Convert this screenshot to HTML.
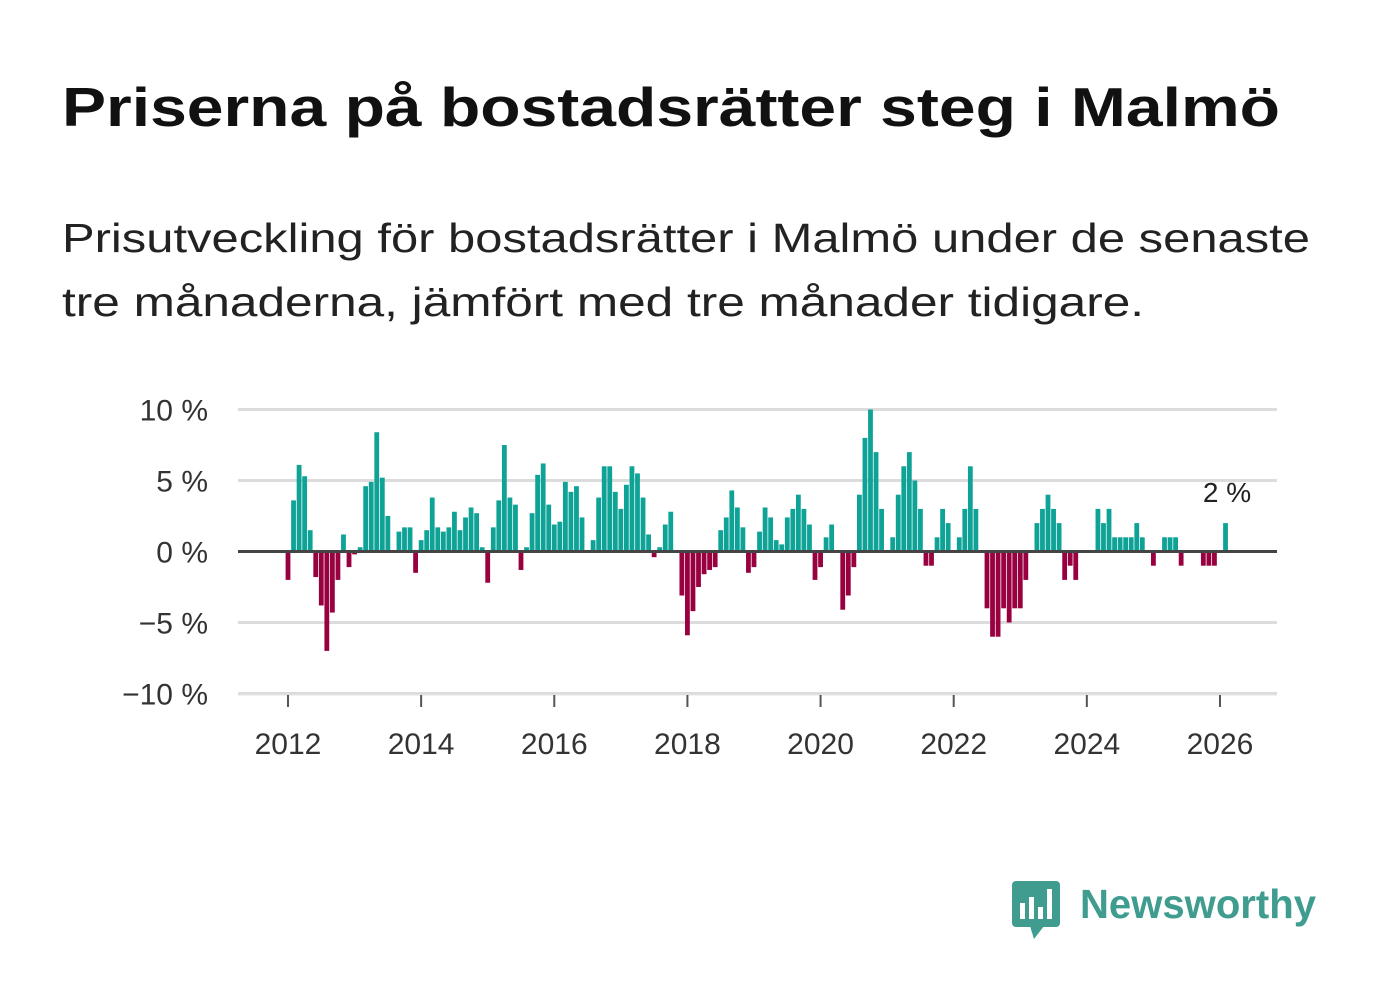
<!DOCTYPE html>
<html><head><meta charset="utf-8">
<style>
body{margin:0;background:#fff;width:1382px;height:999px;overflow:hidden;font-family:"Liberation Sans",sans-serif;}
svg text{font-family:"Liberation Sans",sans-serif;}
</style></head>
<body>
<svg id="chart" width="1382" height="999">
<text x="62" y="126" font-size="55" font-weight="bold" fill="#111" textLength="1218" lengthAdjust="spacingAndGlyphs">Priserna på bostadsrätter steg i Malmö</text>
<text x="62" y="252" font-size="41" fill="#222" textLength="1248" lengthAdjust="spacingAndGlyphs">Prisutveckling för bostadsrätter i Malmö under de senaste</text>
<text x="62" y="316" font-size="41" fill="#222" textLength="1082" lengthAdjust="spacingAndGlyphs">tre månaderna, jämfört med tre månader tidigare.</text>
<g id="grid"></g><g id="bars"></g><g id="axes"></g>
<text x="1227" y="502" font-size="28" fill="#222" text-anchor="middle">2 %</text>
<g>
<rect x="1012" y="881" width="48" height="46" rx="4" fill="#3f9c8f"/>
<polygon points="1030,926 1044,926 1034,939" fill="#3f9c8f"/>
<rect x="1020" y="903" width="5" height="16" fill="#fff"/><rect x="1029" y="897" width="5" height="22" fill="#fff"/>
<rect x="1038" y="907" width="5" height="12" fill="#fff"/><rect x="1047" y="889" width="5" height="30" fill="#fff"/>
<text x="1080" y="918" font-size="41" font-weight="bold" fill="#3f9c8f" textLength="236" lengthAdjust="spacingAndGlyphs">Newsworthy</text>
</g>
</svg>
<script>
const startYear = 2012;
const values = [-2.0,3.6,6.1,5.3,1.5,-1.8,-3.8,-7.0,-4.3,-2.0,1.2,-1.1,
-0.2,0.3,4.6,4.9,8.4,5.2,2.5,0,1.4,1.7,1.7,-1.5,
0.8,1.5,3.8,1.7,1.4,1.7,2.8,1.5,2.4,3.1,2.7,0.3,
-2.2,1.7,3.6,7.5,3.8,3.3,-1.3,0.3,2.7,5.4,6.2,3.3,
1.9,2.1,4.9,4.2,4.6,2.4,0,0.8,3.8,6.0,6.0,4.2,
3.0,4.7,6.0,5.5,3.8,1.2,-0.4,0.3,1.9,2.8,0,-3.1,
-5.9,-4.2,-2.5,-1.6,-1.3,-1.1,1.5,2.4,4.3,3.1,1.7,-1.5,
-1.1,1.4,3.1,2.4,0.8,0.5,2.4,3.0,4.0,3.0,1.9,-2.0,
-1.1,1.0,1.9,0,-4.1,-3.1,-1.1,4.0,8.0,10.0,7.0,3.0,
0,1,4,6,7,5,3,-1,-1,1,3,2,
0,1,3,6,3,0,-4,-6,-6,-4,-5,-4,
-4,-2,0,2,3,4,3,2,-2,-1,-2,0,
0,0,3,2,3,1,1,1,1,2,1,0,
-1,0,1,1,1,-1,0,0,0,-1,-1,-1,
0,2];
const yTicks = [10,5,0,-5,-10];
const yTickLabels = ["10 %","5 %","0 %","\u22125 %","\u221210 %"];
const xTicks = [2012,2014,2016,2018,2020,2022,2024,2026];
const NS="http://www.w3.org/2000/svg";
const x0=288, pxYear=66.57, y0=551.5, pxPct=14.2, gx1=238, gx2=1277;
const xs = t => x0 + (t - startYear) * pxYear;
const ys = v => y0 - v * pxPct;
function mk(tag, attrs, parent){const e=document.createElementNS(NS,tag);for(const k in attrs)e.setAttribute(k,attrs[k]);parent.appendChild(e);return e;}
const grid=document.getElementById('grid'), bars=document.getElementById('bars'), axes=document.getElementById('axes');
yTicks.forEach((v,i)=>{
  if(v!==0){const l=mk('line',{x1:gx1,x2:gx2,y1:ys(v),y2:ys(v),stroke:'#dcdcdc','stroke-width':3},grid);
  
  }
  const t=mk('text',{x:208,y:ys(v)+11,'font-size':30,fill:'#333','text-anchor':'end'},axes);
  t.textContent=yTickLabels[i];
  
  
});
values.forEach((v,i)=>{
  if(v===0) return;
  const cx=xs(startYear+i/12);
  const r=mk('rect',{x:cx-2.4,width:4.8,y:Math.min(ys(v),y0),height:Math.abs(ys(v)-y0),fill:v>0?'#0ea396':'#990040'},bars);
  
  
});
const zl=mk('line',{x1:gx1,x2:gx2,y1:y0,y2:y0,stroke:'#444','stroke-width':3},axes);


const xa=mk('line',{x1:gx1,x2:gx2,y1:695,y2:695,stroke:'#e4e4e4','stroke-width':1},axes);


xTicks.forEach(yr=>{
  const tk=mk('line',{x1:xs(yr),x2:xs(yr),y1:695,y2:707,stroke:'#555','stroke-width':2},axes);
  
  
  const t=mk('text',{x:xs(yr),y:754,'font-size':30,fill:'#333','text-anchor':'middle'},axes);
  t.textContent=yr;
  
  
});
</script>
</body></html>
